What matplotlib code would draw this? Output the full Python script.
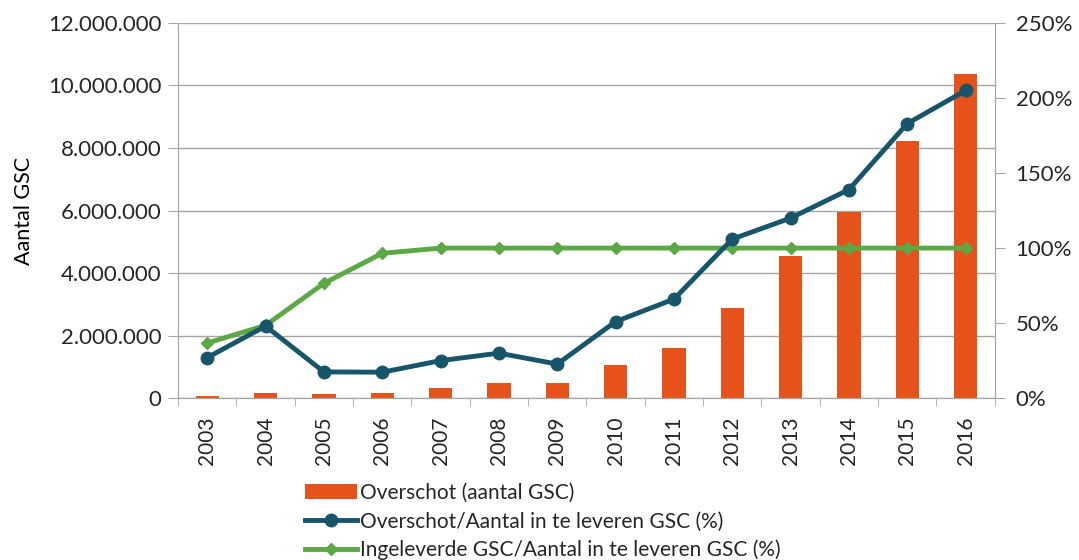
import matplotlib
matplotlib.use("Agg")
import matplotlib.pyplot as plt
from matplotlib.ticker import FuncFormatter, MultipleLocator
import numpy as np

plt.rcParams['font.family'] = ['Lato', 'DejaVu Sans']
plt.rcParams['text.color'] = '#262626'
plt.rcParams['xtick.color'] = '#262626'
plt.rcParams['ytick.color'] = '#262626'

# data
years = ['2003', '2004', '2005', '2006', '2007', '2008', '2009',
         '2010', '2011', '2012', '2013', '2014', '2015', '2016']
overschot = [75000, 160000, 120000, 160000, 320000, 480000, 480000,
             1050000, 1600000, 2880000, 4550000, 5950000, 8220000, 10370000]
overschot_pct = [27, 48, 17.5, 17.3, 25, 30, 22.7, 51, 66, 106, 120, 139, 183, 205]
ingeleverd_pct = [36.7, 48.5, 76.5, 96.5, 100, 100, 100, 100, 100, 100, 100, 100, 100, 100]

orange = '#E5531A'
blue = '#17556B'
green = '#5BA845'
gray = '#A6A6A6'

fig = plt.figure(figsize=(10.79, 5.6), dpi=100)
ax = fig.add_axes([0.165, 0.289, 0.757, 0.67])
ax2 = ax.twinx()

x = np.arange(len(years))
bars = ax.bar(x, overschot, width=0.4, color=orange, zorder=2)
ax.set_xlim(-0.5, len(years) - 0.5)
ax.set_ylim(0, 12000000)
ax.yaxis.set_major_locator(MultipleLocator(2000000))
ax.yaxis.set_major_formatter(FuncFormatter(lambda v, p: f"{int(v):,}".replace(',', '.')))
ax.grid(axis='y', color=gray, linewidth=1, zorder=0)
ax.set_axisbelow(True)
ax.set_ylabel('Aantal GSC', fontsize=15.5, labelpad=10)

ax.set_xticks(x)
ax.set_xticklabels(years, rotation=90, fontsize=15)
ax.set_xticks(np.arange(-0.5, len(years)), minor=True)
ax.tick_params(axis='x', which='major', length=0, pad=13)
ax.tick_params(axis='x', which='minor', length=6, color=gray)
ax.tick_params(axis='y', labelsize=16, length=7, color=gray, pad=5)

l1, = ax2.plot(x, overschot_pct, color=blue, lw=3.5, marker='o', ms=9, zorder=4)
l2, = ax2.plot(x, ingeleverd_pct, color=green, lw=3.5, marker='D', ms=6, zorder=3)
ax2.set_ylim(0, 250)
ax2.yaxis.set_major_locator(MultipleLocator(50))
ax2.yaxis.set_major_formatter(FuncFormatter(lambda v, p: f"{int(v)}%"))
ax2.tick_params(axis='y', labelsize=16, length=7, color=gray, pad=8)

for a in (ax, ax2):
    a.spines['top'].set_visible(False)
    for s in ('left', 'right', 'bottom'):
        a.spines[s].set_color(gray)
ax.set_zorder(ax2.get_zorder() - 1)
ax.patch.set_visible(True)
ax2.patch.set_visible(False)

leg = fig.legend([bars, l1, l2],
                 ['Overschot (aantal GSC)',
                  'Overschot/Aantal in te leveren GSC (%)',
                  'Ingeleverde GSC/Aantal in te leveren GSC (%)'],
                 loc='lower left', bbox_to_anchor=(0.265, -0.034), frameon=False,
                 fontsize=15, handlelength=2.5, handletextpad=0.15, labelspacing=0.4)

fig.savefig('out.png', dpi=100)
